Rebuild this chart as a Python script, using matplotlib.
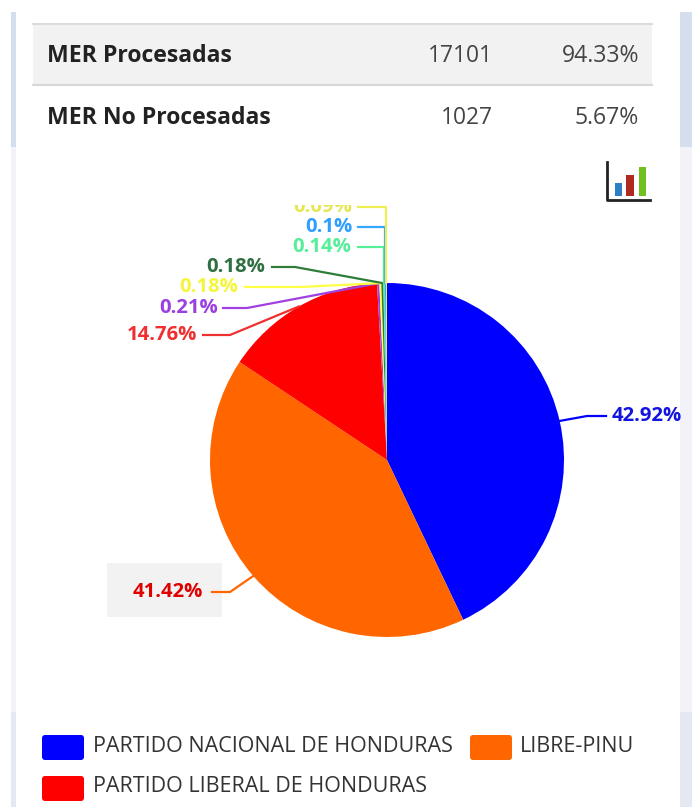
import numpy as np
import matplotlib
matplotlib.use('Agg')
import matplotlib.pyplot as plt
from matplotlib.patches import Rectangle, FancyBboxPatch

plt.rcParams['font.family'] = ['Open Sans', 'DejaVu Sans']

# table at the top
row_names = ['MER Procesadas', 'MER No Procesadas']
row_counts = ['17101', '1027']
row_shares = ['94.33%', '5.67%']

# pie slices, clockwise from the top
slice_values = [42.92, 41.42, 14.76, 0.21, 0.18, 0.18, 0.14, 0.1, 0.09]
slice_labels = ['42.92%', '41.42%', '14.76%', '0.21%', '0.18%', '0.18%', '0.14%', '0.1%', '0.09%']
slice_colors = ['#0000ff', '#ff6600', '#ff0000', '#a040e0', '#ffff44',
                '#2f7d3a', '#55ee99', '#33aaff', '#eeee55']
label_colors = ['#1414e0', '#e00000', '#f03030', '#9a3fe0', '#f5f53c',
                '#2f7040', '#55ee99', '#2f9fff', '#e6e650']

legend_names = ['PARTIDO NACIONAL DE HONDURAS', 'LIBRE-PINU', 'PARTIDO LIBERAL DE HONDURAS']
legend_colors = ['#0000ff', '#ff6600', '#ff0000']

# where each label sits: (right edge of text, y of text, x of line elbow, x where line leaves text)
label_layout = [
    (682, 416, 587, 606),
    (203, 592, 230, 212),
    (197, 335, 230, 203),
    (218, 308, 247, 223),
    (238, 287, 300, 245),
    (265, 267, 295, 272),
    (351, 247, 384, 358),
    (352, 227, 384, 358),
    (352, 207, 384, 358),
]

fig = plt.figure(figsize=(6.92, 8.07), dpi=100)
ax = fig.add_axes([0, 0, 1, 1])
ax.set_xlim(0, 692)
ax.set_ylim(807, 0)
ax.axis('off')

# page side strips
for x, w in [(11, 5), (680, 12)]:
    ax.add_patch(Rectangle((x, 12), w, 135, color='#d5deec', lw=0))
    ax.add_patch(Rectangle((x, 147), w, 565, color='#f1f3f8', lw=0))
    ax.add_patch(Rectangle((x, 712), w, 95, color='#e3e8f2', lw=0))

# table
ax.add_patch(Rectangle((33, 24), 619, 61, color='#f2f2f2', lw=0))
ax.plot([33, 652], [24, 24], color='#dcdcdc', lw=1.5)
ax.plot([33, 652], [85, 85], color='#d8d8d8', lw=1.5)
for i, y in enumerate([56, 118]):
    ax.text(47, y, row_names[i], fontsize=16.6, fontweight='bold', color='#222222', va='center')
    ax.text(493, y, row_counts[i], fontsize=16.4, color='#444444', va='center', ha='right')
    ax.text(639, y, row_shares[i], fontsize=16.6, color='#444444', va='center', ha='right')

# chart type icon
ax.plot([607, 607, 650], [162, 200, 200], color='#222222', lw=2)
ax.add_patch(Rectangle((615, 183), 7, 13, color='#2f7fc8', lw=0))
ax.add_patch(Rectangle((626, 175), 8, 21, color='#b02a20', lw=0))
ax.add_patch(Rectangle((639, 167), 7, 29, color='#70c020', lw=0))

# grey box behind the hovered label
ax.add_patch(Rectangle((107, 563), 115, 54, color='#f2f2f2', lw=0))

# y axis is flipped, so counterclock runs clockwise on screen
cx, cy, radius = 387, 460, 177
wedges, _ = ax.pie(slice_values, colors=slice_colors, startangle=-90, counterclock=True,
                   center=(cx, cy), radius=radius, frame=True)
ax.set_xlim(0, 692)
ax.set_ylim(807, 0)
ax.axis('off')
ax.set_aspect('auto')

clip_top = Rectangle((0, 205), 692, 602, transform=ax.transData)
for wedge, text, col, line_col, (tx, ty, ex, lx) in zip(wedges, slice_labels, label_colors,
                                                        slice_colors, label_layout):
    ang = np.deg2rad((wedge.theta1 + wedge.theta2) / 2)
    sx = cx + radius * np.cos(ang)
    sy = cy + radius * np.sin(ang)
    if ex == 384:
        ex = sx
    line_c = col if line_col == '#ff0000' else line_col
    ax.plot([sx, ex, lx], [sy, ty, ty], color=line_c, lw=1.6, solid_joinstyle='round')
    t = ax.text(tx, ty, text, color=col, fontsize=14.6, fontweight='bold', ha='right', va='center')
    t.set_clip_path(clip_top)
    t.set_clip_on(True)

# legend
legend_pos = [(42, 735, 93), (470, 735, 520), (42, 776, 93)]
for name, col, (x, y, tx) in zip(legend_names, legend_colors, legend_pos):
    ax.add_patch(FancyBboxPatch((x + 3, y + 3), 36, 19, boxstyle='round,pad=3', color=col, lw=0))
    ax.text(tx, y + 11, name, fontsize=15.5, color='#333333', va='center')

fig.savefig('out.png', dpi=100)
